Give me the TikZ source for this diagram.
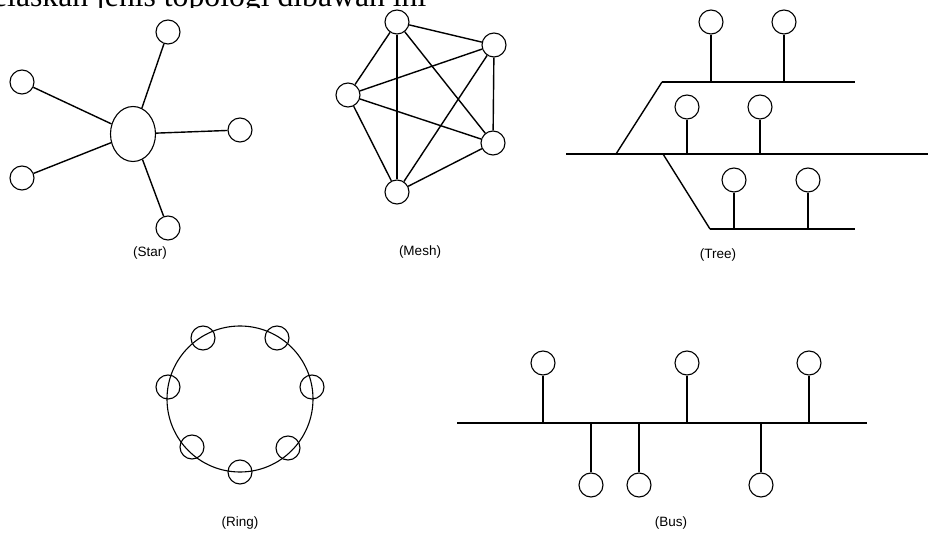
\documentclass[tikz,border=0pt]{standalone}
\usepackage{fontspec}
\setmainfont{Liberation Serif}
\newfontfamily\labelfont{Liberation Sans}
\usetikzlibrary{shapes.geometric}
\tikzset{
  pc/.style={circle,draw,line width=1.1pt,minimum size=24pt,inner sep=0pt},
  hub/.style={ellipse,draw,line width=1.1pt,minimum width=45pt,minimum height=55pt,inner sep=0pt},
  wire/.style={line width=1.4pt},
  toplabel/.style={font=\labelfont\fontsize{13.5}{15}\selectfont,inner sep=0pt},
}
\begin{document}
\begin{tikzpicture}[x=1pt,y=-1pt]
\useasboundingbox (0,0) rectangle (929,534);
% heading (cut off at top and below the letters)
\begin{scope}
\clip (0,0) rectangle (929,8);
\node[anchor=base west,inner sep=0pt,font=\fontsize{31.7}{34}\selectfont] (head) at (-19.4,7) {Jelaskan jenis topologi dibawah ini};
\end{scope}
% ---------- Star ----------
\node[hub] (hub) at (133,134) {};
\node[pc] (s1) at (168,32) {};
\node[pc] (s2) at (22,82) {};
\node[pc] (s3) at (240,130) {};
\node[pc] (s4) at (22,178) {};
\node[pc] (s5) at (168,228) {};
\foreach \s in {s1,s2,s3,s4,s5} \draw[wire] (\s) -- (hub);
\node[toplabel] (lstar) at (150,253) {(Star)};
% ---------- Mesh ----------
\node[pc] (m1) at (397,22) {};
\node[pc] (m2) at (494,45) {};
\node[pc] (m3) at (348,95) {};
\node[pc] (m4) at (493,143) {};
\node[pc] (m5) at (397,192) {};
\foreach \a/\b in {m1/m2,m1/m3,m1/m4,m1/m5,m2/m3,m2/m4,m2/m5,m3/m4,m3/m5,m4/m5}
  \draw[wire] (\a) -- (\b);
\node[toplabel] (lmesh) at (420,252) {(Mesh)};
% ---------- Tree ----------
\coordinate (ta) at (662,82);  \coordinate (tb) at (855,82);
\coordinate (ma) at (566,154); \coordinate (mb) at (928,154);
\coordinate (ba) at (710,229); \coordinate (bb) at (855,229);
\coordinate (mu) at (616,154); \coordinate (md) at (663,154);
\draw[wire] (ta) -- (tb);
\draw[wire] (ma) -- (mb);
\draw[wire] (ba) -- (bb);
\draw[wire] (mu) -- (ta);
\draw[wire] (md) -- (ba);
\node[pc] (t1) at (711,22) {};  \coordinate (t1b) at (711,82);
\node[pc] (t2) at (784,22) {};  \coordinate (t2b) at (784,82);
\node[pc] (t3) at (687,107) {}; \coordinate (t3b) at (687,154);
\node[pc] (t4) at (760,107) {}; \coordinate (t4b) at (760,154);
\node[pc] (t5) at (734,180) {}; \coordinate (t5b) at (734,229);
\node[pc] (t6) at (808,180) {}; \coordinate (t6b) at (808,229);
\foreach \n in {t1,t2,t3,t4,t5,t6} \draw[wire] (\n) -- (\n b);
\node[toplabel] (ltree) at (718,255) {(Tree)};
% ---------- Ring ----------
\node[circle,draw,line width=1.1pt,minimum size=146pt,inner sep=0pt] (ring) at (240,399) {};
\node[pc] (r1) at (203,338) {};
\node[pc] (r2) at (277,338) {};
\node[pc] (r3) at (168,387) {};
\node[pc] (r4) at (312,387) {};
\node[pc] (r5) at (192,447) {};
\node[pc] (r6) at (288,448) {};
\node[pc] (r7) at (240,472) {};
\node[toplabel] (lring) at (240,523) {(Ring)};
% ---------- Bus ----------
\coordinate (busa) at (457,423); \coordinate (busb) at (867,423);
\draw[wire] (busa) -- (busb);
\node[pc] (b1) at (543,363) {}; \coordinate (b1b) at (543,423);
\node[pc] (b2) at (687,363) {}; \coordinate (b2b) at (687,423);
\node[pc] (b3) at (809,363) {}; \coordinate (b3b) at (809,423);
\node[pc] (b4) at (591,485) {}; \coordinate (b4b) at (591,423);
\node[pc] (b5) at (639,485) {}; \coordinate (b5b) at (639,423);
\node[pc] (b6) at (761,485) {}; \coordinate (b6b) at (761,423);
\foreach \n in {b1,b2,b3,b4,b5,b6} \draw[wire] (\n) -- (\n b);
\node[toplabel] (lbus) at (671,523) {(Bus)};
\end{tikzpicture}
\end{document}
